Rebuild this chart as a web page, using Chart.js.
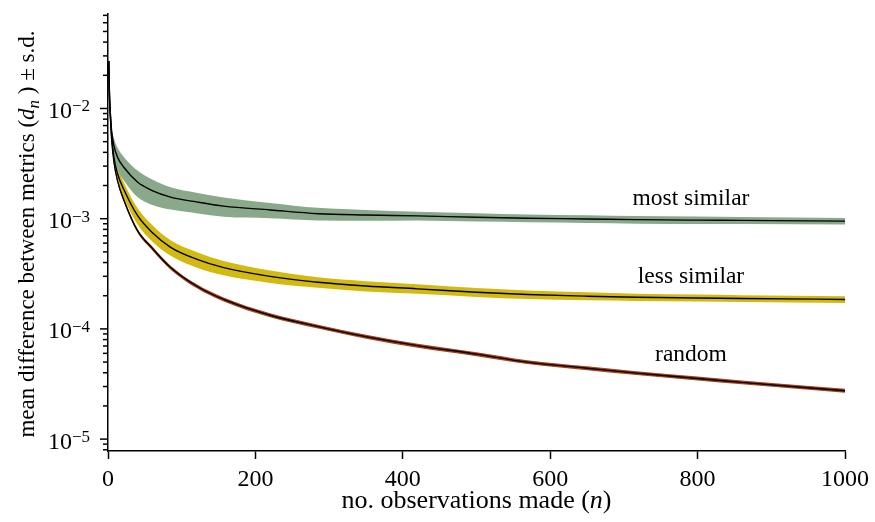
<!DOCTYPE html>
<html>
<head>
<meta charset="utf-8">
<script src="https://cdn.jsdelivr.net/npm/chart.js@4.4.1/dist/chart.umd.min.js"></script>
<style>
  html, body { margin: 0; padding: 0; background: #fff; }
  #wrap { width: 875px; height: 522px; position: relative; }
</style>
</head>
<body>
<div id="wrap"><canvas id="chart"></canvas></div>
<script>
// ---- data ----
const nObs = [1, 2, 3, 5, 8, 13, 22, 40, 60, 85, 120, 157, 220, 285, 350, 420, 500, 569, 650, 717, 800, 860, 1000];

const mostSimilarMean = [0.027, 0.013, 0.0095, 0.0062, 0.0046, 0.0036, 0.0029, 0.00215, 0.0018, 0.00157, 0.00142, 0.0013,
  0.0012, 0.00111, 0.00108, 0.00106, 0.00103, 0.00101, 0.000995, 0.00098, 0.00097, 0.000965, 0.00095];
const mostSimilarSd = [0.0003, 0.0003, 0.0003, 0.0005, 0.0008, 0.0008, 0.0007, 0.00058, 0.00047, 0.00036, 0.0003, 0.00026,
  0.00019, 0.000145, 0.00012, 0.000095, 0.000088, 0.000081, 0.00008, 0.000078, 0.000075, 0.000072, 0.000066];

const lessSimilarMean = [0.027, 0.013, 0.0093, 0.0055, 0.0036, 0.00256, 0.00181, 0.00107, 0.00075, 0.00055, 0.00043, 0.00036,
  0.0003, 0.000265, 0.000245, 0.000231, 0.000215, 0.000205, 0.000198, 0.000194, 0.000191, 0.000189, 0.000185];
const lessSimilarSd = [0.0003, 0.00015, 0.0001, 0.00028, 0.00043, 0.00038, 0.00029, 0.00018, 0.000128, 0.000088, 0.000069, 0.000054,
  0.000039, 0.000029, 0.000026, 0.000023, 0.00002, 0.0000185, 0.0000165, 0.0000146, 0.000014, 0.0000132, 0.000013];

const randomMean = [0.027, 0.013, 0.009, 0.0052, 0.0033, 0.0022, 0.00145, 0.00078, 0.00054, 0.00036, 0.000245, 0.000185,
  0.000133, 0.000105, 0.000085, 0.0000705, 0.000059, 0.00005, 0.000044, 0.0000397, 0.0000355, 0.0000327, 0.0000275];
const randomSd = [0.0003, 0.00015, 0.00017, 0.00018, 0.00013, 0.00009, 0.00006, 0.000032, 0.000022, 0.000015, 0.00001, 0.0000075,
  0.0000054, 0.0000043, 0.0000035, 0.0000029, 0.0000024, 0.000002, 0.0000018, 0.0000016, 0.0000014, 0.0000013, 0.0000011];

const seriesNames = ["most similar", "less similar", "random"];
const xTickValues = [0, 200, 400, 600, 800, 1000];
const yDecades = [-5, -4, -3, -2];

// where the series names sit (data coordinates)
const nameAnchorsN = [791, 791, 791];
const nameAnchorsY = [0.00132, 0.00026, 0.0000515];

// ---- style ----
const SERIF = "'Liberation Serif', 'Times New Roman', serif";
const bandColors = ["#8aa98b", "#d3ba12", "#a6421a"];
const Y_MIN = 7.8e-6, Y_MAX = 0.072;

function shift(mean, sd, sign) {
  return mean.map((m, i) => m + sign * sd[i]);
}

const groups = [
  [mostSimilarMean, mostSimilarSd],
  [lessSimilarMean, lessSimilarSd],
  [randomMean, randomSd]
];

const datasets = [];
groups.forEach(([mean, sd], i) => {
  datasets.push({
    label: seriesNames[i] + " +sd",
    data: shift(mean, sd, 1),
    borderWidth: 0,
    borderColor: "rgba(0,0,0,0)",
    backgroundColor: bandColors[i],
    pointRadius: 0,
    fill: false,
    cubicInterpolationMode: "monotone",
    order: 2
  });
  datasets.push({
    label: seriesNames[i] + " -sd",
    data: shift(mean, sd, -1),
    borderWidth: 0,
    borderColor: "rgba(0,0,0,0)",
    backgroundColor: bandColors[i],
    pointRadius: 0,
    fill: "-1",
    cubicInterpolationMode: "monotone",
    order: 2
  });
});
groups.forEach(([mean], i) => {
  datasets.push({
    label: seriesNames[i],
    data: mean,
    borderColor: "#000",
    borderWidth: 1.4,
    pointRadius: 0,
    fill: false,
    cubicInterpolationMode: "monotone",
    order: 1
  });
});

// y tick marks: 1..9 x 10^k inside the range
function yTickList() {
  const out = [];
  for (let e = -6; e <= -1; e++) {
    for (let k = 1; k <= 9; k++) {
      const v = k * Math.pow(10, e);
      if (v >= Y_MIN && v <= Y_MAX) out.push({ v, major: k === 1 });
    }
  }
  return out;
}

// draw a row of text pieces centred on 0 along the baseline
function drawRuns(ctx, runs) {
  let total = 0;
  runs.forEach(r => { ctx.font = r.font; r.w = ctx.measureText(r.text).width; total += r.w; });
  let x = -total / 2;
  runs.forEach(r => {
    ctx.font = r.font;
    ctx.fillText(r.text, x, r.dy || 0);
    x += r.w;
  });
}

const decor = {
  id: "decor",
  afterDraw(chart) {
    const { ctx, scales: { x, y } } = chart;
    const left = chart.chartArea.left;
    ctx.save();
    ctx.fillStyle = "#000";
    ctx.strokeStyle = "#000";
    ctx.lineWidth = 1.5;

    // y tick marks
    yTickList().forEach(t => {
      const py = y.getPixelForValue(t.v);
      ctx.beginPath();
      ctx.moveTo(left - (t.major ? 8 : 5), py);
      ctx.lineTo(left, py);
      ctx.stroke();
    });

    // y tick labels 10^k
    ctx.textAlign = "right";
    ctx.textBaseline = "alphabetic";
    yDecades.forEach(e => {
      const py = y.getPixelForValue(Math.pow(10, e));
      const sup = "\u2212" + Math.abs(e);
      ctx.font = "17px " + SERIF;
      const supW = ctx.measureText(sup).width;
      const right = left - 18;
      ctx.fillText(sup, right, py + 3);
      ctx.font = "24px " + SERIF;
      ctx.fillText("10", right - supW, py + 9.5);
    });

    // series names
    ctx.textAlign = "center";
    ctx.font = "23.5px " + SERIF;
    seriesNames.forEach((name, i) => {
      ctx.fillText(name, x.getPixelForValue(nameAnchorsN[i]), y.getPixelForValue(nameAnchorsY[i]));
    });

    // x title
    ctx.textAlign = "left";
    ctx.save();
    ctx.translate((chart.chartArea.left + chart.chartArea.right) / 2, 508);
    drawRuns(ctx, [
      { text: "no. observations made (", font: "26px " + SERIF },
      { text: "n", font: "italic 26px " + SERIF },
      { text: ")", font: "26px " + SERIF }
    ]);
    ctx.restore();

    // y title
    ctx.save();
    ctx.translate(34, 234);
    ctx.rotate(-Math.PI / 2);
    drawRuns(ctx, [
      { text: "mean difference between metrics (", font: "23px " + SERIF },
      { text: "d", font: "italic 23px " + SERIF },
      { text: "n", font: "italic 17px " + SERIF, dy: 5 },
      { text: " ) \u00b1 s.d.", font: "23px " + SERIF }
    ]);
    ctx.restore();

    ctx.restore();
  }
};

new Chart(document.getElementById("chart"), {
  type: "line",
  data: { labels: nObs, datasets },
  plugins: [decor],
  options: {
    responsive: true,
    maintainAspectRatio: false,
    animation: false,
    layout: { padding: { top: 14, right: 26, left: 0, bottom: 0 } },
    plugins: { legend: { display: false }, tooltip: { enabled: false } },
    scales: {
      x: {
        type: "linear",
        min: 0,
        max: 1000,
        afterFit: s => { s.height = 71; },
        afterBuildTicks: s => { s.ticks = xTickValues.map(v => ({ value: v })); },
        border: { display: true, color: "#000", width: 1.5 },
        grid: { drawOnChartArea: false, tickLength: 8, tickColor: "#000", tickWidth: 1.5 },
        ticks: {
          color: "#000",
          padding: 6,
          maxRotation: 0,
          font: { family: SERIF, size: 24 },
          callback: v => String(v)
        }
      },
      y: {
        type: "logarithmic",
        min: Y_MIN,
        max: Y_MAX,
        afterFit: s => { s.width = 108; },
        border: { display: true, color: "#000", width: 1.5 },
        grid: { display: false },
        ticks: { display: false }
      }
    }
  }
});
</script>
</body>
</html>
